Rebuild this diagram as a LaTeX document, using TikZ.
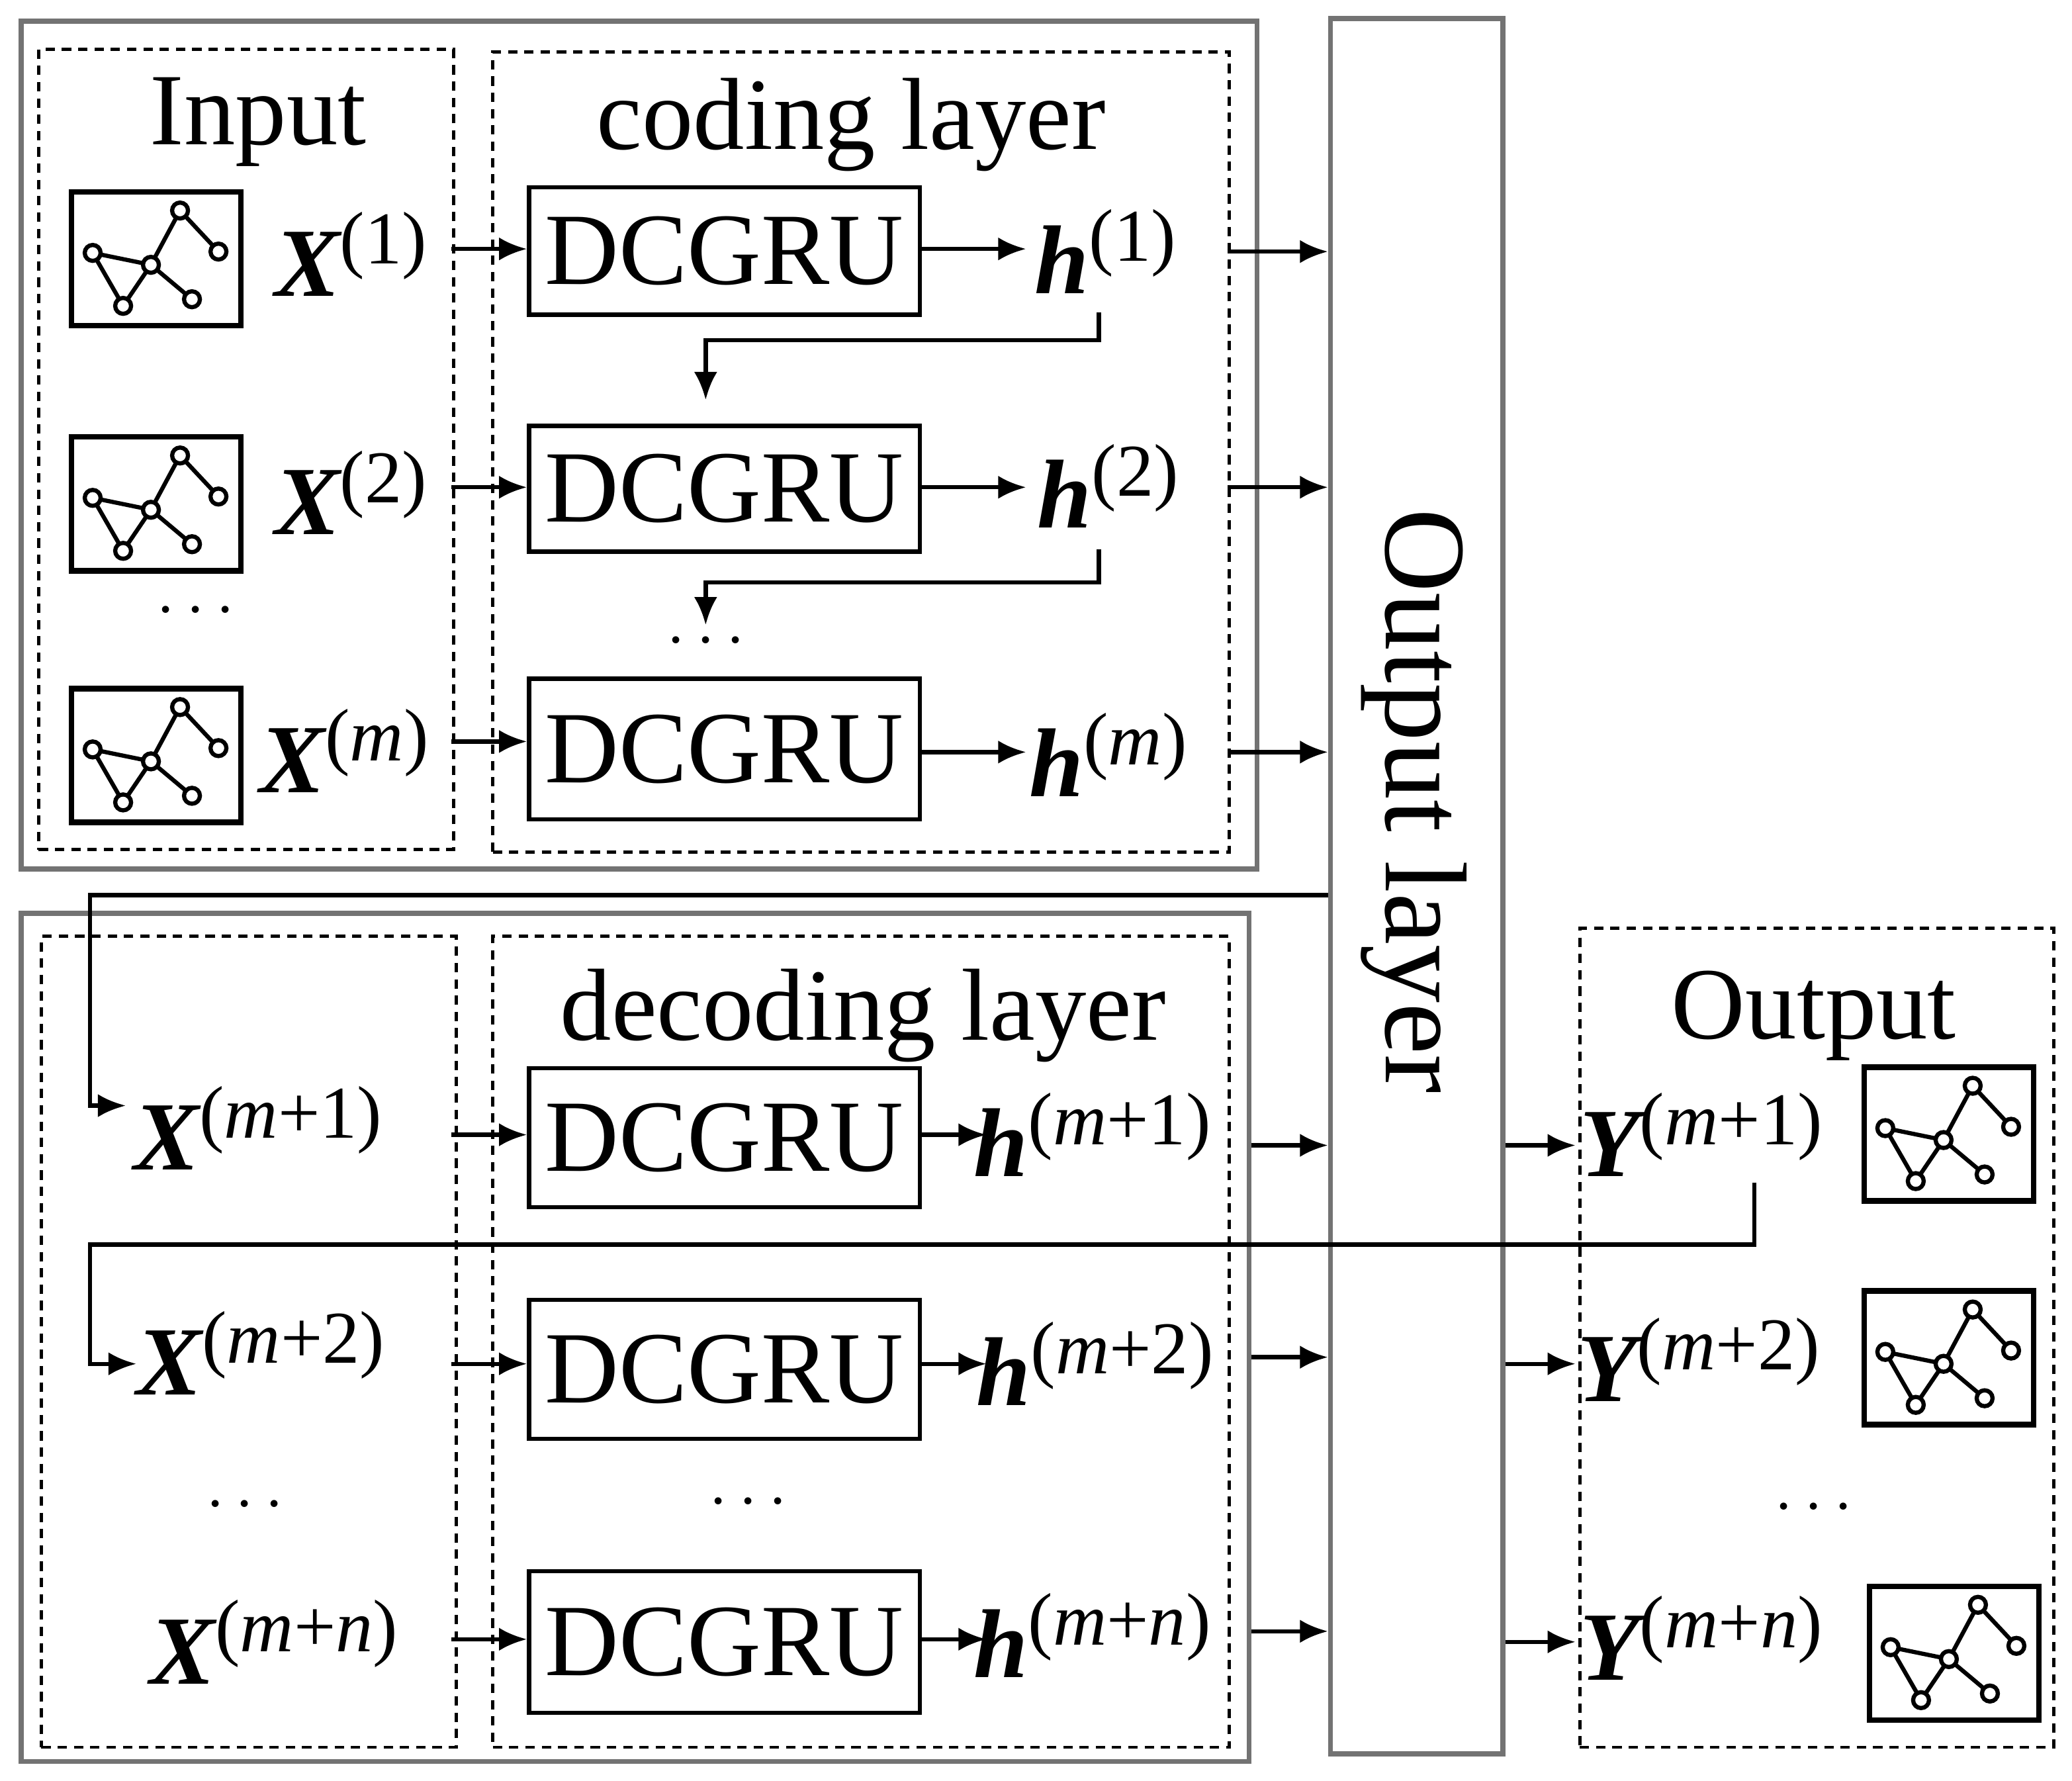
\documentclass[tikz,border=0pt]{standalone}
\usepackage{fontspec}
\setmainfont{Liberation Serif}
\usetikzlibrary{arrows.meta}
\newcommand{\lab}[2]{{\fontsize{21}{24}\selectfont\bfseries\itshape #1}\raisebox{1.5ex}{\fontsize{16}{18}\selectfont #2}}
\begin{document}
\begin{tikzpicture}[x=0.01cm,y=-0.01cm,
  box/.style={draw,line width=0.9pt,inner sep=0,anchor=north west,font=\fontsize{22}{25}\selectfont},
  dbox/.style={draw,dashed,dash pattern=on 2pt off 1.5pt,line width=0.7pt,inner sep=0,anchor=north west},
  gbox/.style={draw=black!55,line width=1.1pt,inner sep=0,anchor=north west},
  ttl/.style={font=\fontsize{22}{25}\selectfont,inner sep=0},
  lb/.style={inner sep=0},
  dots/.style={inner sep=0,font=\fontsize{14}{16}\selectfont},
  ar/.style={-{Latex[length=6pt,width=5pt]},line width=0.9pt},
  graph/.pic={
    \draw[line width=1.2pt] (0,0) rectangle (128,101);
    \coordinate (-a) at (16,46); \coordinate (-b) at (60,55); \coordinate (-c) at (39,86);
    \coordinate (-d) at (82,14); \coordinate (-e) at (111,45); \coordinate (-f) at (91,81);
    \draw[line width=0.9pt] (-a)--(-b)--(-c)--cycle (-b)--(-d)--(-e) (-b)--(-f);
    \foreach \p in {a,b,c,d,e,f}{\draw[line width=0.9pt,fill=white] (-\p) circle (6);}
  }]
\useasboundingbox (0,0) rectangle (1565,1345);
% outer boxes
\node[gbox,minimum width=9.33cm,minimum height=6.40cm] (up) at (14,14) {};
\node[gbox,minimum width=9.27cm,minimum height=6.40cm] (lo) at (14,688) {};
\node[dbox,minimum width=3.13cm,minimum height=6.04cm] (inb) at (28,36) {};
\node[dbox,minimum width=5.56cm,minimum height=6.04cm] (cob) at (371,38) {};
\node[dbox,minimum width=3.13cm,minimum height=6.12cm] (xb) at (30,706) {};
\node[dbox,minimum width=5.56cm,minimum height=6.12cm] (deb) at (371,706) {};
\node[dbox,minimum width=3.58cm,minimum height=6.18cm] (ob) at (1192,700) {};
\node[gbox,minimum width=1.30cm,minimum height=13.10cm] (ol) at (1003,12) {};
\node[ttl,rotate=-90,font=\fontsize{25}{28}\selectfont] (olt) at (1068,605) {Output layer};
% titles
\node[ttl] (t1) at (195,92) {Input};
\node[ttl] (t2) at (643,94) {coding layer};
\node[ttl] (t3) at (652,767) {decoding layer};
\node[ttl] (t4) at (1370,767) {Output};
% icons
\pic (g1) at (54,145) {graph};
\pic (g2) at (54,330) {graph};
\pic (g3) at (54,520) {graph};
\pic (g4) at (1408,806) {graph};
\pic (g5) at (1408,975) {graph};
\pic (g6) at (1412,1198) {graph};
% X labels
\node[lb] (x1) at (265,192) {\lab{X}{(1)}};
\node[lb] (x2) at (265,372) {\lab{X}{(2)}};
\node[lb] (x3) at (260,567) {\lab{X}{(\textit{m})}};
\node[lb] (x4) at (195,852) {\lab{X}{(\textit{m}+1)}};
\node[lb] (x5) at (197,1022) {\lab{X}{(\textit{m}+2)}};
\node[lb] (x6) at (207,1240) {\lab{X}{(\textit{m}+\textit{n})}};
\node[dots] (dx1) at (148,462) {$\cdots$};
\node[dots] (dx2) at (185,1137) {$\cdots$};
% DCGRU
\node[box,minimum width=2.95cm,minimum height=0.96cm] (d1) at (398,140) {DCGRU};
\node[box,minimum width=2.95cm,minimum height=0.95cm] (d2) at (398,320) {DCGRU};
\node[box,minimum width=2.95cm,minimum height=1.06cm] (d3) at (398,511) {DCGRU};
\node[box,minimum width=2.95cm,minimum height=1.05cm] (d4) at (398,805) {DCGRU};
\node[box,minimum width=2.95cm,minimum height=1.05cm] (d5) at (398,980) {DCGRU};
\node[box,minimum width=2.95cm,minimum height=1.07cm] (d6) at (398,1185) {DCGRU};
\node[dots] (dd1) at (533,485) {$\cdots$};
\node[dots] (dd2) at (565,1135) {$\cdots$};
% h labels
\node[lb] (h1) at (835,190) {\lab{h}{(1)}};
\node[lb] (h2) at (837,367) {\lab{h}{(2)}};
\node[lb] (h3) at (837,570) {\lab{h}{(\textit{m})}};
\node[lb] (h4) at (825,857) {\lab{h}{(\textit{m}+1)}};
\node[lb] (h5) at (827,1030) {\lab{h}{(\textit{m}+2)}};
\node[lb] (h6) at (825,1235) {\lab{h}{(\textit{m}+\textit{n})}};
% Y labels
\node[lb] (y1) at (1285,857) {\lab{Y}{(\textit{m}+1)}};
\node[lb] (y2) at (1283,1027) {\lab{Y}{(\textit{m}+2)}};
\node[lb] (y3) at (1285,1237) {\lab{Y}{(\textit{m}+\textit{n})}};
\node[dots] (dy) at (1370,1139) {$\cdots$};
% X -> DCGRU
\foreach \d/\y in {d1/188,d2/368,d3/560,d4/857,d5/1030,d6/1238}{
  \coordinate (s\d) at (341,\y);
  \draw[ar] (s\d) -- (\d.west|-s\d);}
% DCGRU -> h
\foreach \d/\e/\y in {d1/775/188,d2/775/368,d3/775/568}{
  \coordinate (e\d) at (\e,\y);
  \draw[ar] (\d.east|-e\d) -- (e\d);}
\foreach \d/\y in {d4/857,d5/1030,d6/1238}{
  \coordinate (e\d) at (745,\y);
  \draw[ar] (\d.east|-e\d) -- (e\d);}
% h -> output layer
\foreach \y/\xs in {190/927,368/927,568/927,865/945,1025/945,1232/945}{
  \coordinate (hs\y) at (\xs,\y);
  \draw[ar] (hs\y) -- (ol.west|-hs\y);}
% output layer -> Y
\foreach \y in {865,1030,1240}{
  \coordinate (ys\y) at (1190,\y);
  \draw[ar] (ol.east|-ys\y) -- (ys\y);}
% feedback in coding
\coordinate (f1) at (830,236); \coordinate (f1e) at (533,302);
\draw[ar] (f1) -- (830,257) -- (533,257) -- (f1e);
\coordinate (f2) at (830,415); \coordinate (f2e) at (533,472);
\draw[ar] (f2) -- (830,440) -- (533,440) -- (f2e);
% output layer -> X(m+1)
\coordinate (c1) at (1003,676); \coordinate (c1e) at (95,835);
\draw[ar] (c1) -- (68,676) -- (68,835) -- (c1e);
% Y(m+1) -> X(m+2)
\coordinate (c2) at (1325,893); \coordinate (c2e) at (103,1030);
\draw[ar] (c2) -- (1325,940) -- (68,940) -- (68,1030) -- (c2e);
\end{tikzpicture}
\end{document}
